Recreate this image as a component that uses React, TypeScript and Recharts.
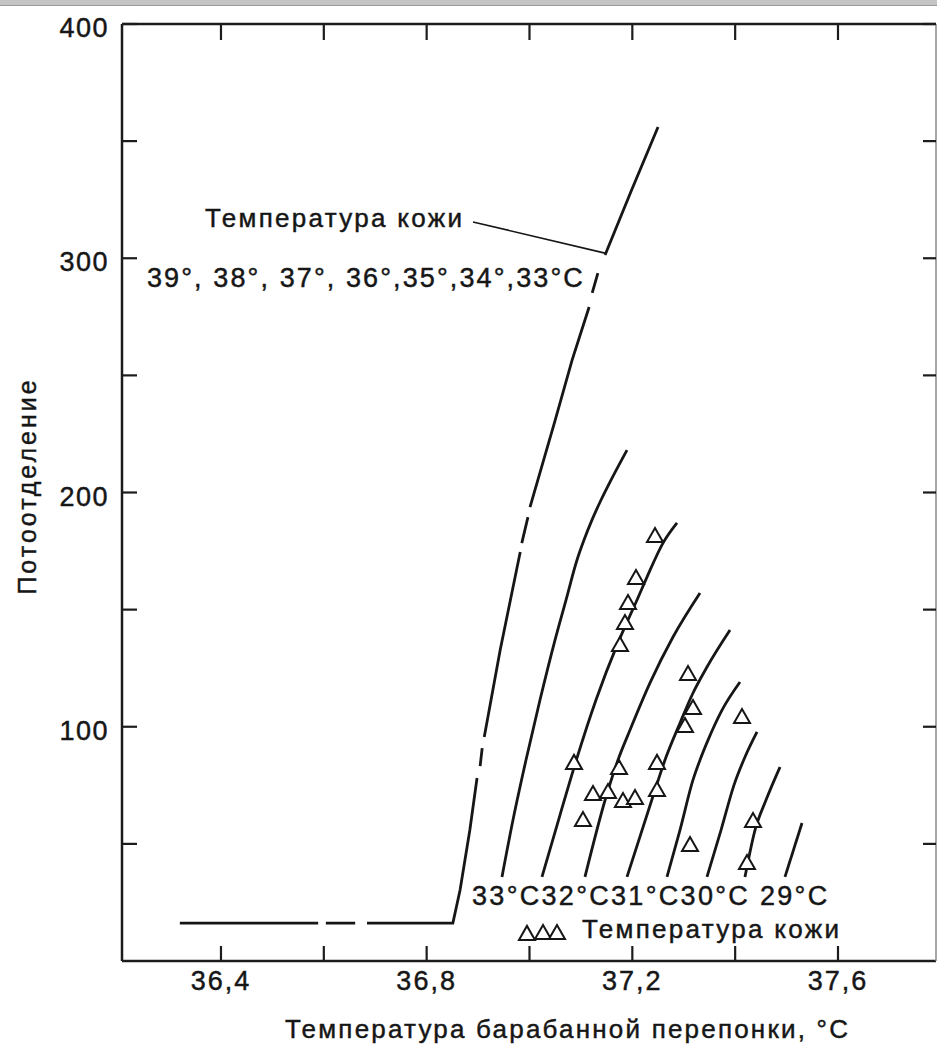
import React from 'react';
import { ComposedChart, Line, Scatter, XAxis, YAxis, ReferenceLine, ReferenceDot } from 'recharts';

// ---------- axes ----------
const X_DOMAIN: [number, number] = [36.2075, 37.7906];
const Y_DOMAIN: [number, number] = [0, 400];
const xTicks = [36.4, 36.6, 36.8, 37.0, 37.2, 37.4, 37.6];
const xTickLabels = ['36,4', '', '36,8', '', '37,2', '', '37,6'];
const yTicks = [50, 100, 150, 200, 250, 300, 350, 400];
const yTickLabels = ['', '100', '', '200', '', '300', '', '400'];

const xTitle = 'Температура барабанной перепонки, °C';
const yTitle = 'Потоотделение';

// ---------- threshold curve (skin 39°..33°C), nulls = gaps in the drawn line ----------
const thresholdCurve = [
  { x: 36.320, y: 16.2 }, { x: 36.589, y: 16.2 }, { x: 36.597, y: null },
  { x: 36.604, y: 16.2 }, { x: 36.661, y: 16.2 }, { x: 36.673, y: null },
  { x: 36.684, y: 16.2 }, { x: 36.851, y: 16.2 }, { x: 36.865, y: 30.3 }, { x: 36.884, y: 55.9 },
  { x: 36.898, y: 78.1 }, { x: 36.901, y: null },
  { x: 36.904, y: 83.2 }, { x: 36.908, y: 90.9 }, { x: 36.910, y: null },
  { x: 36.912, y: 95.6 }, { x: 36.943, y: 132.8 }, { x: 36.982, y: 174.6 }, { x: 36.983, y: null },
  { x: 36.985, y: 178.4 }, { x: 36.997, y: 189.5 }, { x: 36.999, y: null },
  { x: 37.001, y: 193.8 }, { x: 37.050, y: 230.9 }, { x: 37.083, y: 256.6 }, { x: 37.116, y: 279.2 }, { x: 37.119, y: null },
  { x: 37.122, y: 285.2 }, { x: 37.133, y: 293.7 }, { x: 37.140, y: null },
  { x: 37.147, y: 301.4 }, { x: 37.197, y: 328.3 }, { x: 37.250, y: 356.0 },
];

// ---------- skin temperature curves (33°C ... 29°C) ----------
const curveA = [
  { x: 36.9465, y: 35.9 }, { x: 36.9679, y: 60.2 }, { x: 36.9932, y: 85.8 }, { x: 37.0204, y: 111.4 },
  { x: 37.0496, y: 137.0 }, { x: 37.0710, y: 154.1 }, { x: 37.0924, y: 171.2 }, { x: 37.1060, y: 179.7 },
  { x: 37.1216, y: 188.3 }, { x: 37.1391, y: 196.8 }, { x: 37.1585, y: 205.3 }, { x: 37.1896, y: 218.1 },
];
const curveB = [
  { x: 37.0243, y: 35.9 }, { x: 37.0593, y: 62.3 }, { x: 37.0924, y: 86.7 }, { x: 37.1293, y: 111.4 },
  { x: 37.1721, y: 135.8 }, { x: 37.1916, y: 145.6 }, { x: 37.2091, y: 154.1 }, { x: 37.2285, y: 163.9 },
  { x: 37.2596, y: 178.4 }, { x: 37.2869, y: 187.0 },
];
const curveC = [
  { x: 37.1079, y: 35.9 }, { x: 37.1488, y: 70.0 }, { x: 37.1721, y: 85.8 }, { x: 37.1955, y: 98.6 },
  { x: 37.2344, y: 118.7 }, { x: 37.2791, y: 138.3 }, { x: 37.3316, y: 157.1 },
];
const curveD = [
  { x: 37.1896, y: 35.9 }, { x: 37.2441, y: 73.0 }, { x: 37.2635, y: 85.8 }, { x: 37.2927, y: 101.6 },
  { x: 37.3180, y: 114.4 }, { x: 37.3452, y: 125.5 }, { x: 37.3900, y: 141.3 },
];
const curveE = [
  { x: 37.2674, y: 35.9 }, { x: 37.2927, y: 55.9 }, { x: 37.3180, y: 77.3 }, { x: 37.3316, y: 85.8 },
  { x: 37.3472, y: 94.3 }, { x: 37.3744, y: 107.1 }, { x: 37.4094, y: 119.1 },
];
const curveF = [
  { x: 37.3452, y: 35.9 }, { x: 37.3725, y: 55.9 }, { x: 37.3977, y: 75.1 }, { x: 37.4191, y: 87.1 },
  { x: 37.4425, y: 97.8 },
];
const curveG = [
  { x: 37.4191, y: 35.9 }, { x: 37.4386, y: 55.9 }, { x: 37.4600, y: 68.7 }, { x: 37.4872, y: 82.8 },
];
const curveH = [
  { x: 37.4969, y: 35.9 }, { x: 37.5300, y: 58.9 },
];
const skinCurves = [curveA, curveB, curveC, curveD, curveE, curveF, curveG, curveH];

// ---------- measured points (triangles) ----------
const measured = [
  { x: 37.2441, y: 181.9 }, { x: 37.2071, y: 163.9 }, { x: 37.1916, y: 153.3 }, { x: 37.1857, y: 144.7 },
  { x: 37.1760, y: 135.3 }, { x: 37.3083, y: 122.9 }, { x: 37.3180, y: 108.4 }, { x: 37.3024, y: 100.7 },
  { x: 37.4133, y: 104.6 }, { x: 37.0866, y: 85.0 }, { x: 37.1741, y: 82.8 }, { x: 37.2480, y: 85.0 },
  { x: 37.2480, y: 73.4 }, { x: 37.1235, y: 71.7 }, { x: 37.1527, y: 72.6 }, { x: 37.1818, y: 68.7 },
  { x: 37.2052, y: 70.0 }, { x: 37.1040, y: 60.6 }, { x: 37.4347, y: 60.2 }, { x: 37.3122, y: 49.9 },
  { x: 37.4230, y: 42.3 },
];
const legendMarkers = [
  { x: 36.9951, y: 12.0 }, { x: 37.0263, y: 12.4 }, { x: 37.0535, y: 12.4 },
];

// ---------- annotations ----------
const annSkinTop = { x: 36.3689, y: 313.3, text: 'Температура кожи' };
const annSkinList = { x: 36.2561, y: 287.7, text: '39°, 38°, 37°, 36°,35°,34°,33°C' };
const annCurveLabels = { x: 36.8882, y: 23.9, text: '33°C32°C31°C30°C 29°C' };
const annSkinBottom = { x: 37.1021, y: 9.8, text: 'Температура кожи' };
const leader = [{ x: 36.8901, y: 315.5 }, { x: 37.1468, y: 302.2 }];

const FONT = "'Liberation Sans', Arial, Helvetica, sans-serif";
const INK = '#161616';
const TEXT_STROKE = 0.45;
const TICK_COLOR = '#1c1c1c';
const TICK_W = 2.2;

// plot geometry (px) used only to express the top inward tick length in data units
const PLOT_H = 937;
const TOP_TICK_PX = 16;
const topTickDepth = (TOP_TICK_PX / PLOT_H) * (Y_DOMAIN[1] - Y_DOMAIN[0]);

const findLabel = (ticks: number[], labels: string[], v: number) => {
  const i = ticks.findIndex((t) => Math.abs(t - v) < 1e-6);
  return i >= 0 ? labels[i] : '';
};

// bottom axis: tickSize -15 (inward), tickMargin 44 -> tick line spans y-44 .. y-29
const BottomTick = (props: any) => {
  const { x, y, payload } = props;
  const label = findLabel(xTicks, xTickLabels, payload.value);
  return (
    <g>
      <line x1={x} x2={x} y1={y - 44} y2={y - 29} stroke={TICK_COLOR} strokeWidth={TICK_W} />
      {label ? (
        <text x={x} y={y} textAnchor="middle" fontFamily={FONT} fontSize={27} letterSpacing={2}
          fill={INK} stroke={INK} strokeWidth={TEXT_STROKE}>
          {label}
        </text>
      ) : null}
    </g>
  );
};

// left axis: tickSize -15, tickMargin 28 -> tick spans x+13 .. x+28
const LeftTick = (props: any) => {
  const { x, y, payload } = props;
  const label = findLabel(yTicks, yTickLabels, payload.value);
  return (
    <g>
      <line x1={x + 13} x2={x + 28} y1={y} y2={y} stroke={TICK_COLOR} strokeWidth={TICK_W} />
      {label ? (
        <text x={x} y={y + 13} textAnchor="end" fontFamily={FONT} fontSize={27} letterSpacing={1.5}
          fill={INK} stroke={INK} strokeWidth={TEXT_STROKE}>
          {label}
        </text>
      ) : null}
    </g>
  );
};

const RightTick = (props: any) => {
  const { x, y } = props;
  return <line x1={x} x2={x + 13} y1={y} y2={y} stroke={TICK_COLOR} strokeWidth={TICK_W} />;
};

const NoTick = () => <g />;

const AnnText = (props: any) => {
  const { viewBox, text, size, spacing } = props;
  if (!viewBox) return null;
  return (
    <text x={viewBox.x} y={viewBox.y} fontFamily={FONT} fontSize={size} letterSpacing={spacing}
      fill={INK} stroke={INK} strokeWidth={TEXT_STROKE}>
      {text}
    </text>
  );
};

const XTitle = (props: any) => {
  const { viewBox } = props;
  if (!viewBox) return null;
  return (
    <text x={viewBox.x + 163} y={viewBox.y + 77} fontFamily={FONT} fontSize={26} letterSpacing={2.2}
      fill={INK} stroke={INK} strokeWidth={TEXT_STROKE}>
      {xTitle}
    </text>
  );
};

const YTitle = (props: any) => {
  const { viewBox } = props;
  if (!viewBox) return null;
  const cx = viewBox.x + 36;
  const cy = viewBox.y + 462;
  return (
    <text x={cx} y={cy} transform={`rotate(-90 ${cx} ${cy})`} textAnchor="middle" fontFamily={FONT}
      fontSize={25} letterSpacing={3} fill={INK} stroke={INK} strokeWidth={TEXT_STROKE}>
      {yTitle}
    </text>
  );
};

const TriangleShape = (props: any) => {
  const { cx, cy } = props;
  if (cx == null || cy == null) return <g />;
  const w = 16;
  const h = 14;
  const pts = `${cx - w / 2},${cy + h / 2} ${cx + w / 2},${cy + h / 2} ${cx},${cy - h / 2}`;
  return <polygon points={pts} fill="#fff" stroke={INK} strokeWidth={2} strokeLinejoin="miter" />;
};

const axisStroke = { stroke: '#1c1c1c', strokeWidth: 2.5 };

export default function App() {
  return (
    <div style={{ position: 'absolute', left: 0, top: 0, width: 937, height: 1050, background: '#fff', overflow: 'hidden' }}>
      <div style={{ position: 'absolute', left: 0, top: 0, width: 937, height: 5, background: '#c4c4c4', borderBottom: '1px solid #9a9a9a' }} />
      <ComposedChart width={937} height={1050} margin={{ top: 23, right: 0, bottom: 0, left: 0 }}>
        <XAxis type="number" dataKey="x" domain={X_DOMAIN} ticks={xTicks} allowDataOverflow height={89}
          axisLine={axisStroke} tickLine={false} tickSize={-15} tickMargin={44} tick={BottomTick} interval={0}
          label={<XTitle />} />
        <XAxis xAxisId="top" orientation="top" type="number" domain={X_DOMAIN} ticks={xTicks} allowDataOverflow
          height={1} axisLine={axisStroke} tickLine={false} tick={NoTick} interval={0} />
        <YAxis type="number" dataKey="y" domain={Y_DOMAIN} ticks={yTicks} allowDataOverflow width={122}
          axisLine={axisStroke} tickLine={false} tickSize={-15} tickMargin={28} tick={LeftTick} interval={0}
          label={<YTitle />} />
        <YAxis yAxisId="right" orientation="right" type="number" domain={Y_DOMAIN} ticks={yTicks} allowDataOverflow
          width={1} axisLine={{ stroke: '#8a8a8a', strokeWidth: 1.5 }} tickLine={false} tickSize={-13} tickMargin={0}
          tick={RightTick} interval={0} />

        {xTicks.map((t) => (
          <ReferenceLine
            key={`tt-${t}`}
            segment={[{ x: t, y: Y_DOMAIN[1] }, { x: t, y: Y_DOMAIN[1] - topTickDepth }]}
            stroke={TICK_COLOR}
            strokeWidth={TICK_W}
            ifOverflow="visible"
          />
        ))}

        <Line data={thresholdCurve} dataKey="y" type="linear" stroke={INK} strokeWidth={2.8} dot={false}
          activeDot={false} connectNulls={false} isAnimationActive={false} />
        {skinCurves.map((c, i) => (
          <Line key={i} data={c} dataKey="y" type="monotone" stroke={INK} strokeWidth={2.8} dot={false}
            activeDot={false} isAnimationActive={false} />
        ))}

        <ReferenceLine segment={leader} stroke={INK} strokeWidth={1.6} ifOverflow="visible" />

        <Scatter data={measured} dataKey="y" shape={TriangleShape} isAnimationActive={false} />
        <Scatter data={legendMarkers} dataKey="y" shape={TriangleShape} isAnimationActive={false} />

        <ReferenceDot x={annSkinTop.x} y={annSkinTop.y} r={0} fill="none" stroke="none" ifOverflow="visible"
          label={<AnnText text={annSkinTop.text} size={26} spacing={2.3} />} />
        <ReferenceDot x={annSkinList.x} y={annSkinList.y} r={0} fill="none" stroke="none" ifOverflow="visible"
          label={<AnnText text={annSkinList.text} size={27} spacing={2.1} />} />
        <ReferenceDot x={annCurveLabels.x} y={annCurveLabels.y} r={0} fill="none" stroke="none" ifOverflow="visible"
          label={<AnnText text={annCurveLabels.text} size={27} spacing={2.3} />} />
        <ReferenceDot x={annSkinBottom.x} y={annSkinBottom.y} r={0} fill="none" stroke="none" ifOverflow="visible"
          label={<AnnText text={annSkinBottom.text} size={26} spacing={2.3} />} />
      </ComposedChart>
    </div>
  );
}
